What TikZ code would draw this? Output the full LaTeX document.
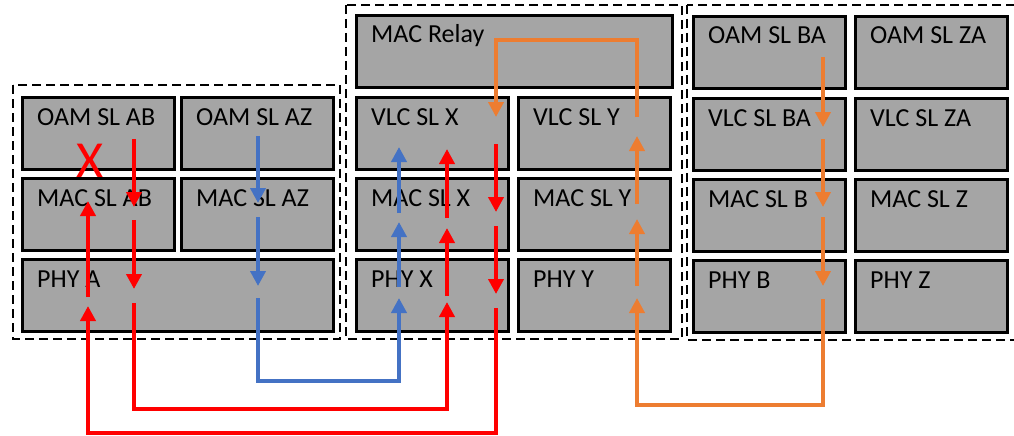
\documentclass[tikz,border=0pt]{standalone}
\usepackage{fontspec}
\setmainfont{Carlito}
\usepackage{tikz}
\usetikzlibrary{positioning,arrows.meta}
\usepackage{xcolor}
\definecolor{boxgray}{HTML}{A5A5A5}
\definecolor{flowblue}{HTML}{4472C4}
\definecolor{floworange}{HTML}{ED7D31}

\begin{document}
\begin{tikzpicture}[x=1pt,y=-1pt,
  lbl/.style={anchor=base west,xshift=16pt,yshift=-29pt,inner sep=0pt,font=\fontsize{26}{30}\selectfont},
  layer/.style={draw,line width=3pt,fill=boxgray,minimum width=152pt,minimum height=72pt,
    inner sep=0pt,outer sep=1.5pt,label={[lbl]north west:#1}},
  group/.style={draw,line width=2.5pt,dash pattern=on 9pt off 5pt},
  flow/.style={line width=4pt,-{Triangle[width=15pt,length=15pt]}}]
\useasboundingbox (0,0) rectangle (1014,436);

% station A
\node[layer=OAM SL AB,anchor=north west] (oamab) at (21,96) {};
\node[layer=OAM SL AZ,right=4pt of oamab] (oamaz) {};
\node[layer=MAC SL AB,below=6pt of oamab] (macab) {};
\node[layer=MAC SL AZ,right=4pt of macab] (macaz) {};
\node[layer=PHY A,minimum width=311pt,below=6pt of macab.south west,anchor=north west] (phya) {};
\draw[group] (13,85) rectangle (340,339);

% relay station X/Y
\node[layer=MAC Relay,minimum width=316pt,anchor=north west] (relay) at (355,14) {};
\node[layer=VLC SL X,below=7pt of relay.south west,anchor=north west] (vlcx) {};
\node[layer=VLC SL Y,right=7pt of vlcx] (vlcy) {};
\node[layer=MAC SL X,below=6pt of vlcx] (macx) {};
\node[layer=MAC SL Y,right=7pt of macx] (macy) {};
\node[layer=PHY X,below=6pt of macx] (phyx) {};
\node[layer=PHY Y,right=7pt of phyx] (phyy) {};
\draw[group] (346,5) rectangle (682,339);

% station B/Z
\node[layer=OAM SL BA,anchor=north west] (oamba) at (692,15) {};
\node[layer=OAM SL ZA,right=7pt of oamba] (oamza) {};
\node[layer=VLC SL BA,below=7pt of oamba] (vlcba) {};
\node[layer=VLC SL ZA,right=7pt of vlcba] (vlcza) {};
\node[layer=MAC SL B,below=6pt of vlcba] (macb) {};
\node[layer=MAC SL Z,right=7pt of macb] (macz) {};
\node[layer=PHY B,below=6pt of macb] (phyb) {};
\node[layer=PHY Z,right=7pt of phyb] (phyz) {};
\draw[group] (687,5) rectangle (1020,340);

% red: A -> X
\draw[flow,red] (134,139) -- (134,207);
\draw[flow,red] (134,220) -- (134,289);
\draw[flow,red] (134,303) |- (447,409) -- (447,302);
\draw[flow,red] (447,296) -- (447,228);
\draw[flow,red] (447,218) -- (447,149);

% red: X -> A
\draw[flow,red] (496,144) -- (496,212);
\draw[flow,red] (496,226) -- (496,294);
\draw[flow,red] (496,308) |- (88,433) -- (88,306);
\draw[flow,red] (88,297) -- (88,201);
\node[red,font=\fontsize{52}{56}\selectfont,anchor=base,inner sep=0pt] (cross) at (90,177) {X};

% blue: AZ -> X
\draw[flow,flowblue] (258,136) -- (258,203);
\draw[flow,flowblue] (258,217) -- (258,286);
\draw[flow,flowblue] (258,298) |- (399,381) -- (399,298);
\draw[flow,flowblue] (399,287) -- (399,222);
\draw[flow,flowblue] (399,213) -- (399,147);

% orange: BA -> Y -> relay -> X
\draw[flow,floworange] (823,57) -- (823,127);
\draw[flow,floworange] (823,139) -- (823,207);
\draw[flow,floworange] (823,217) -- (823,286);
\draw[flow,floworange] (823,299) |- (637,405) -- (637,298);
\draw[flow,floworange] (637,286) -- (637,219);
\draw[flow,floworange] (637,204) -- (637,136);
\draw[flow,floworange] (637,117) |- (496,40) -- (496,117);
\end{tikzpicture}
\end{document}
